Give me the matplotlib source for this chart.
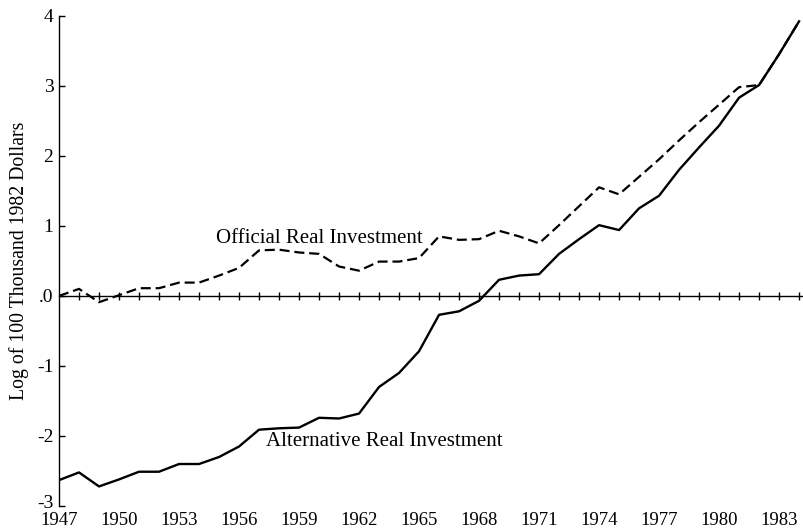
import numpy as np
import matplotlib.pyplot as plt
from matplotlib.transforms import ScaledTranslation

plt.rcParams['font.family'] = ['Liberation Serif', 'DejaVu Serif']

years = list(range(1947, 1985))

# log of 100 thousand 1982 dollars
alternative = [-2.63, -2.52, -2.72, -2.62, -2.51, -2.51, -2.40, -2.40, -2.30, -2.15,
               -1.91, -1.89, -1.88, -1.74, -1.75, -1.68, -1.30, -1.10, -0.79, -0.27,
               -0.22, -0.07, 0.23, 0.29, 0.31, 0.60, 0.81, 1.01, 0.94, 1.25,
               1.43, 1.80, 2.12, 2.43, 2.83, 3.01, 3.45, 3.92]
official = [0.00, 0.10, -0.09, 0.01, 0.11, 0.11, 0.19, 0.19, 0.29, 0.40,
            0.65, 0.66, 0.62, 0.60, 0.42, 0.36, 0.49, 0.49, 0.54, 0.85,
            0.80, 0.81, 0.93, 0.85, 0.75, 1.01, 1.28, 1.55, 1.45, 1.70,
            1.95, 2.22, 2.48, 2.73, 2.98, 3.01, 3.45, 3.92]

label_years = list(range(1947, 1984, 3))
yticks = [-3, -2, -1, 0, 1, 2, 3, 4]
ytick_labels = ['-3', '-2', '-1', '.0', '1', '2', '3', '4']

fig = plt.figure(figsize=(8.04, 5.31), dpi=100)
ax = fig.add_axes([0.0734, 0.047, 0.9237, 0.9234])

ax.plot(years, alternative, color='black', lw=1.7)
ax.plot(years, official, color='black', lw=1.6, dashes=(4.5, 2.2))

ax.set_xlim(1947, 1984.13)
ax.set_ylim(-3, 4)

# horizontal axis drawn through zero with a tick at every year
for s in ['top', 'right']:
    ax.spines[s].set_visible(False)
ax.spines['bottom'].set_position(('data', 0))
ax.spines['bottom'].set_linewidth(1.0)
ax.spines['left'].set_linewidth(1.0)
ax.set_xticks(years[1:])
ax.tick_params(axis='x', direction='inout', length=6, width=1, labelbottom=False)

ax.set_yticks(yticks)
ax.set_yticklabels(ytick_labels)
ax.tick_params(axis='y', direction='in', length=4, width=1, pad=4, labelsize=14)

# year labels along the bottom
sec = ax.secondary_xaxis('bottom')
sec.set_xticks(label_years)
sec.set_xticklabels([str(y) for y in label_years])
sec.tick_params(length=0, pad=4, labelsize=13.5)
sec.spines['bottom'].set_visible(False)

# nudge the bottom "-3" up a little so it clears the 1947 label
lowest = ax.yaxis.get_major_ticks()[0].label1
lowest.set_transform(lowest.get_transform() + ScaledTranslation(0, 3 / 72, fig.dpi_scale_trans))

ax.set_ylabel('Log of 100 Thousand 1982 Dollars', fontsize=14.2, labelpad=6)

ax.text(1954.85, 0.82, 'Official Real Investment', fontsize=15, ha='left', va='center')
ax.text(1957.35, -2.08, 'Alternative Real Investment', fontsize=15, ha='left', va='center')

fig.savefig('out.png', dpi=100)
